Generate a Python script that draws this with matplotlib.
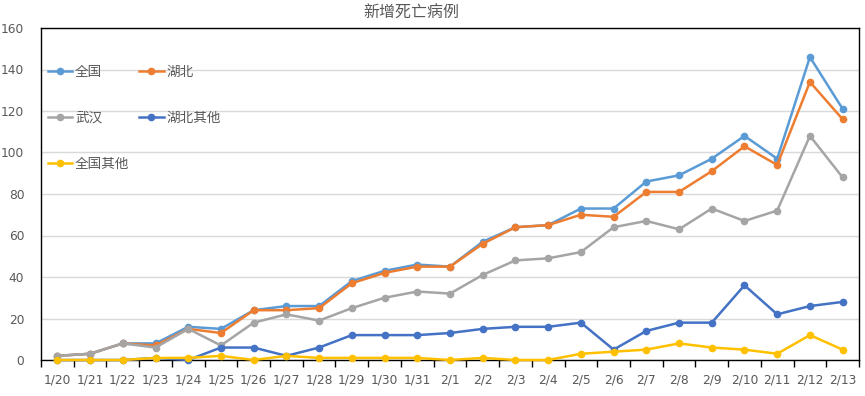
import matplotlib
matplotlib.use("Agg")
import matplotlib.pyplot as plt

plt.rcParams['font.family'] = ['DejaVu Sans', 'Noto Sans CJK SC']

dates = ['1/20', '1/21', '1/22', '1/23', '1/24', '1/25', '1/26', '1/27', '1/28',
         '1/29', '1/30', '1/31', '2/1', '2/2', '2/3', '2/4', '2/5', '2/6', '2/7',
         '2/8', '2/9', '2/10', '2/11', '2/12', '2/13']

quanguo = [2, 3, 8, 8, 16, 15, 24, 26, 26, 38, 43, 46, 45, 57, 64, 65, 73, 73, 86,
           89, 97, 108, 97, 146, 121]
hubei = [2, 3, 8, 7, 15, 13, 24, 24, 25, 37, 42, 45, 45, 56, 64, 65, 70, 69, 81,
         81, 91, 103, 94, 134, 116]
wuhan = [2, 3, 8, 6, 15, 7, 18, 22, 19, 25, 30, 33, 32, 41, 48, 49, 52, 64, 67,
         63, 73, 67, 72, 108, 88]
hubei_other = [0, 0, 0, 1, 0, 6, 6, 2, 6, 12, 12, 12, 13, 15, 16, 16, 18, 5, 14,
               18, 18, 36, 22, 26, 28]
other = [0, 0, 0, 1, 1, 2, 0, 2, 1, 1, 1, 1, 0, 1, 0, 0, 3, 4, 5,
         8, 6, 5, 3, 12, 5]

names = ['全国', '湖北', '武汉', '湖北其他', '全国其他']
colors = ['#5B9BD5', '#ED7D31', '#A5A5A5', '#4472C4', '#FFC000']

fig = plt.figure(figsize=(8.65, 3.96), dpi=100)
ax = fig.add_axes([41 / 865, 1 - 360 / 396, 818 / 865, 332 / 396])

x = list(range(len(dates)))
lines = []
for vals, name, c in zip([quanguo, hubei, wuhan, hubei_other, other], names, colors):
    ln, = ax.plot(x, vals, color=c, lw=1.8, marker='o', markersize=4.5, label=name,
                  solid_joinstyle='round', clip_on=False, zorder=3)
    lines.append(ln)

ax.set_xlim(-0.5, len(dates) - 0.5)
ax.set_ylim(0, 160)
ax.set_yticks(range(0, 161, 20))
ax.yaxis.grid(True, color='#D9D9D9', lw=1)
ax.set_axisbelow(True)

ax.set_xticks(x)
ax.set_xticklabels(dates)
ax.set_xticks([i - 0.5 for i in range(len(dates) + 1)], minor=True)
ax.tick_params(axis='x', which='major', length=0, pad=10, labelsize=8.8, labelcolor='#595959')
ax.tick_params(axis='x', which='minor', length=5, width=1, color='black', direction='out')
ax.tick_params(axis='y', length=0, pad=12, labelsize=8.8, labelcolor='#595959')

for s in ax.spines.values():
    s.set_color('black')
    s.set_linewidth(1)

order = [0, 2, 4, 1, 3]
ax.legend([lines[i] for i in order], [names[i] for i in order], ncol=2,
          loc='upper left', bbox_to_anchor=(0.0, 0.91), frameon=False,
          prop={'family': ['Noto Sans CJK SC'], 'size': 9.8},
          labelcolor='#595959', handlelength=1.8, handletextpad=0.2,
          columnspacing=0.7, labelspacing=2.35, borderpad=0)

fig.text(411 / 865, 1 - 13 / 396, '新增死亡病例', ha='center', va='center',
         fontsize=11.5, color='#595959', family=['Noto Sans CJK SC'])

fig.savefig('out.png', dpi=100)
